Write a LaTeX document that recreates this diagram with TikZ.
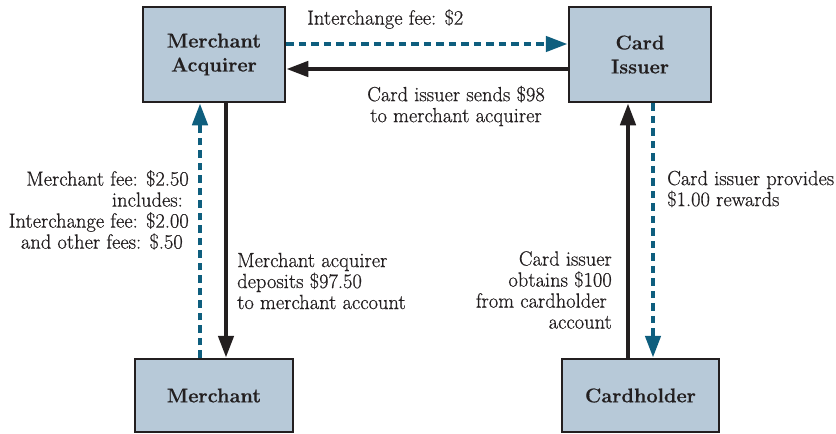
\documentclass[tikz,border=0pt]{standalone}
\usepackage{fontspec}
\setmainfont{Latin Modern Roman}[FakeBold=0.6]
\newfontfamily\boxfont{Latin Modern Roman}[FakeBold=0.5]
\usetikzlibrary{arrows.meta}
\definecolor{boxfill}{HTML}{B7C9D8}
\definecolor{ink}{HTML}{231F20}
\definecolor{flowblue}{HTML}{0E5E7E}
\begin{document}
\begin{tikzpicture}[x=1pt,y=-1pt,
  party/.style={draw=ink,line width=2.5pt,fill=boxfill,inner sep=0pt,align=center,
    font=\fontsize{20}{24}\boxfont\bfseries,text=ink},
  money/.style={draw=ink,line width=4.5pt,-{Triangle[length=22pt,width=15pt]}},
  fee/.style={draw=flowblue,line width=4.5pt,dash pattern=on 7.5pt off 5pt,
    -{Triangle[length=22pt,width=15pt]}},
  lbl/.style={inner sep=0pt,text=ink,font=\fontsize{20.5}{21}\selectfont}
]
\useasboundingbox (0,0) rectangle (836,434);
\node[party,minimum width=142pt,minimum height=95pt] (ma) at (214,54.5) {Merchant\\Acquirer};
\node[party,minimum width=142pt,minimum height=95pt] (ci) at (640,54.5) {Card\\Issuer};
\node[party,minimum width=158pt,minimum height=73pt] (me) at (214,395.5) {Merchant};
\node[party,minimum width=157pt,minimum height=73pt] (ch) at (640.5,395.5) {Cardholder};

\draw[fee] ([yshift=10.5pt]ma.east) -- ([yshift=10.5pt]ci.west);
\draw[money] ([yshift=-14.5pt]ci.west) -- ([yshift=-14.5pt]ma.east);
\draw[fee] ([xshift=-14pt]me.north) -- ([xshift=-14pt]ma.south);
\draw[money] ([xshift=12pt]ma.south) -- ([xshift=12pt]me.north);
\draw[money] ([xshift=-12.5pt]ch.north) -- ([xshift=-12pt]ci.south);
\draw[fee] ([xshift=13pt]ci.south) -- ([xshift=12.5pt]ch.north);

\node[lbl,anchor=west] (l1) at (307,19) {Interchange fee: \$2};
\node[lbl,align=center] (l2) at (456,106) {Card issuer sends \$98\\to merchant acquirer};
\node[lbl,align=right,anchor=east] (l3) at (189,210) {Merchant fee: \$2.50\\includes:\kern6pt\\Interchange fee: \$2.00\\and other fees: \$.50\kern6pt};
\node[lbl,align=left,anchor=west] (l4) at (237,281) {Merchant acquirer\\deposits \$97.50\\to merchant account};
\node[lbl,align=left,anchor=west] (l5) at (667,189) {Card issuer provides\\\$1.00 rewards};
\node[lbl,align=right,anchor=east] (l6) at (612,290) {Card issuer\\obtains \$100\\from cardholder\kern5pt\\account};
\end{tikzpicture}
\end{document}
